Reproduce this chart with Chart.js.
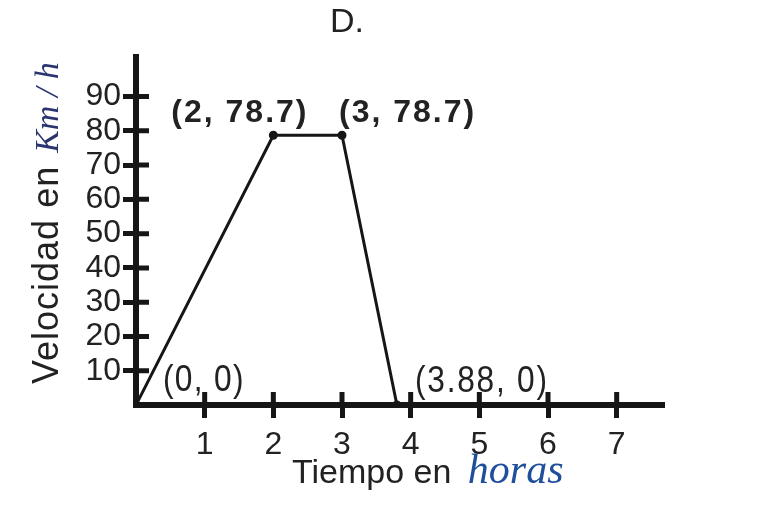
<!DOCTYPE html>
<html><head><meta charset="utf-8">
<script src="https://cdn.jsdelivr.net/npm/chart.js@4.4.1/dist/chart.umd.min.js"></script>
<style>html,body{margin:0;padding:0;background:#fff;}canvas{display:block;}</style>
</head><body>
<canvas id="c" width="774" height="513"></canvas>
<script>
// ---- data ----
const timeHours = [0, 2, 3, 3.8];
const speedKmh = [0, 78.7, 78.7, 0];
const pointLabels = ['(0, 0)', '(2, 78.7)', '(3, 78.7)', '(3.88, 0)'];
const xTickValues = [1, 2, 3, 4, 5, 6, 7];
const yTickValues = [10, 20, 30, 40, 50, 60, 70, 80, 90];
const chartTitle = 'D.';
const xTitleParts = ['Tiempo en ', 'horas'];
const yTitleParts = ['Velocidad en ', 'Km / h'];

// ---- style ----
const INK = '#161616';
const TXT = '#222';
const SANS = '"Liberation Sans", Arial, sans-serif';
const SERIF = '"Liberation Serif", "Times New Roman", serif';
const labelStyle = [
  {dx: 27, dy: -14, font: 'normal 36px', sx: 0.88, ls: 1.5},
  {dx: -102, dy: -13, font: 'bold 32px', sx: 1, ls: 2},
  {dx: -3, dy: -13, font: 'bold 32px', sx: 1, ls: 2},
  {dx: 18, dy: -13, font: 'normal 36px', sx: 0.88, ls: 2}
];

const extras = {
  id: 'extras',
  afterDraw(chart) {
    const ctx = chart.ctx;
    const xs = chart.scales.x, ys = chart.scales.y;
    const area = chart.chartArea;
    ctx.save();
    // inner halves of tick marks
    ctx.strokeStyle = INK;
    ctx.lineWidth = 5;
    ctx.beginPath();
    xs.ticks.forEach(t => {
      const px = xs.getPixelForValue(t.value);
      ctx.moveTo(px, area.bottom - 13);
      ctx.lineTo(px, area.bottom);
    });
    ys.ticks.forEach(t => {
      const py = ys.getPixelForValue(t.value);
      ctx.moveTo(area.left, py);
      ctx.lineTo(area.left + 13, py);
    });
    ctx.stroke();

    // point labels
    ctx.fillStyle = TXT;
    ctx.textBaseline = 'alphabetic';
    ctx.textAlign = 'left';
    pointLabels.forEach((lab, i) => {
      const st = labelStyle[i];
      const px = xs.getPixelForValue(timeHours[i]);
      const py = ys.getPixelForValue(speedKmh[i]);
      ctx.save();
      ctx.translate(px + st.dx, py + st.dy);
      ctx.scale(st.sx, 1);
      ctx.letterSpacing = st.ls + 'px';
      ctx.font = st.font + ' ' + SANS;
      ctx.fillText(lab, 0, 0);
      ctx.restore();
    });

    // x axis title
    ctx.font = '34px ' + SANS;
    ctx.fillStyle = TXT;
    let x0 = 292;
    ctx.fillText(xTitleParts[0], x0, 483);
    x0 += ctx.measureText(xTitleParts[0]).width;
    ctx.font = 'italic 42px ' + SERIF;
    ctx.fillStyle = '#1f4e9c';
    ctx.fillText(xTitleParts[1], x0 + 7, 483);

    // y axis title (rotated)
    ctx.translate(58, 384);
    ctx.rotate(-Math.PI / 2);
    ctx.font = '36px ' + SANS;
    ctx.fillStyle = TXT;
    ctx.letterSpacing = '1px';
    ctx.fillText(yTitleParts[0], 0, 0);
    let y0 = ctx.measureText(yTitleParts[0]).width;
    ctx.letterSpacing = '0px';
    ctx.font = 'italic 34px ' + SERIF;
    ctx.fillStyle = '#2a3570';
    ctx.fillText(yTitleParts[1], y0 + 2, 0);
    ctx.restore();
  }
};

new Chart(document.getElementById('c'), {
  type: 'line',
  data: {
    datasets: [{
      data: timeHours.map((t, i) => ({x: t, y: speedKmh[i]})),
      borderColor: INK,
      borderWidth: 3,
      pointRadius: 3,
      pointBackgroundColor: INK,
      pointBorderColor: INK,
      tension: 0,
      fill: false
    }]
  },
  options: {
    responsive: false,
    animation: false,
    devicePixelRatio: 1,
    layout: {padding: {left: 32, right: 112, top: 0, bottom: 0}},
    plugins: {
      legend: {display: false},
      tooltip: {enabled: false},
      title: {
        display: true,
        text: chartTitle,
        color: TXT,
        font: {family: SANS, size: 34, weight: 'normal'},
        padding: {top: 2, bottom: 14}
      }
    },
    scales: {
      x: {
        type: 'linear',
        min: 0, max: 7.66,
        afterBuildTicks: s => { s.ticks = xTickValues.map(v => ({value: v})); },
        afterFit: s => { s.height = 108; },
        border: {display: true, color: INK, width: 6},
        grid: {display: true, drawOnChartArea: false, drawTicks: true, tickLength: 13, lineWidth: 5, color: INK},
        ticks: {color: TXT, font: {family: SANS, size: 32}, padding: 8, maxRotation: 0, autoSkip: false,
                callback: v => String(v)}
      },
      y: {
        type: 'linear',
        min: 0, max: 101.6,
        afterBuildTicks: s => { s.ticks = yTickValues.map(v => ({value: v})); },
        afterFit: s => { s.width = 104; },
        border: {display: true, color: INK, width: 6},
        grid: {display: true, drawOnChartArea: false, drawTicks: true, tickLength: 13, lineWidth: 5, color: INK},
        ticks: {color: TXT, font: {family: SANS, size: 32}, padding: 2, autoSkip: false,
                callback: v => String(v)}
      }
    }
  },
  plugins: [extras]
});
</script>
</body></html>
